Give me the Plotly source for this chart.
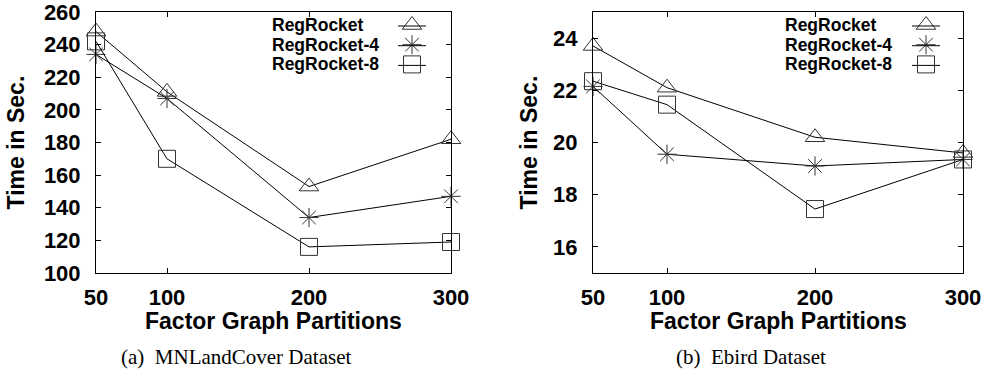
import plotly.graph_objects as go

# Number of factor graph partitions (x axis)
partitions = [50, 100, 200, 300]
series_names = ["RegRocket", "RegRocket-4", "RegRocket-8"]

# Running time in seconds, MNLandCover dataset
mnland_regrocket = [248, 211, 153, 182]
mnland_regrocket4 = [234, 207, 134, 147]
mnland_regrocket8 = [242, 170, 116, 119]

# Running time in seconds, Ebird dataset
ebird_regrocket = [23.7, 22.1, 20.2, 19.6]
ebird_regrocket4 = [22.15, 19.55, 19.1, 19.35]
ebird_regrocket8 = [22.35, 21.45, 17.45, 19.35]

x_ticks = [50, 100, 200, 300]
mnland_yticks = [100, 120, 140, 160, 180, 200, 220, 240, 260]
ebird_yticks = [16, 18, 20, 22, 24]

captions = ["(a)  MNLandCover Dataset", "(b)  Ebird Dataset"]

W, H = 991, 379
symbols = ["triangle-up-open", "asterisk-open", "square-open"]
sizes = [17, 16, 17]

SANS = "Liberation Sans"
SERIF = "Liberation Serif"

# plot rectangles in pixels: (left, right, top, bottom)
panels = [(96, 451, 12, 273), (593, 963, 12, 273)]


def px_x(v):
    return v / W


def px_y(v):
    return 1 - v / H


fig = go.Figure()

panel_data = [
    ([mnland_regrocket, mnland_regrocket4, mnland_regrocket8], "x", "y"),
    ([ebird_regrocket, ebird_regrocket4, ebird_regrocket8], "x2", "y2"),
]
for series, xa, ya in panel_data:
    for name, vals, sym, sz in zip(series_names, series, symbols, sizes):
        fig.add_trace(go.Scatter(
            x=partitions, y=vals, name=name, xaxis=xa, yaxis=ya,
            mode="lines+markers", showlegend=False,
            line=dict(color="black", width=1),
            marker=dict(symbol=sym, size=sz, color="#333",
                        line=dict(color="#333", width=1)),
            cliponaxis=False,
        ))

axis_common = dict(
    showline=True, linecolor="black", linewidth=1, mirror="allticks",
    ticks="inside", ticklen=5, tickcolor="black", tickwidth=1,
    showgrid=False, zeroline=False, automargin=False,
    ticklabeloverflow="allow",
    tickfont=dict(family=SANS, size=22, color="black", weight="bold"),
)

layout = dict(
    template="none",
    width=W, height=H, margin=dict(l=0, r=0, t=0, b=0, pad=0),
    paper_bgcolor="white", plot_bgcolor="rgba(0,0,0,0)", showlegend=False,
)

for i, ((l, r, t, b), yt, yr) in enumerate(zip(
        panels, [mnland_yticks, ebird_yticks], [[100, 260], [15, 25]])):
    sfx = "" if i == 0 else str(i + 1)
    layout["xaxis" + sfx] = dict(
        axis_common, domain=[px_x(l), px_x(r)], range=[50, 300],
        tickvals=x_ticks, anchor="y" + sfx, ticklabelstandoff=5,
    )
    layout["yaxis" + sfx] = dict(
        axis_common, domain=[px_y(b), px_y(t)], range=yr,
        tickvals=yt, anchor="x" + sfx, ticklabelstandoff=10,
    )

# overlay axes spanning the whole page, in pixel units, for legend keys
layout["xaxis3"] = dict(domain=[0, 1], range=[0, W], visible=False,
                        anchor="y3", fixedrange=True, automargin=False)
layout["yaxis3"] = dict(domain=[0, 1], range=[H, 0], visible=False,
                        anchor="x3", fixedrange=True, automargin=False)
fig.update_layout(**layout)

annotations = []
shapes = []
legend_rows = [25, 44.7, 64.4]
legend_text_x = [270, 783]
legend_key_x = [412, 926]
for p, (l, r, t, b) in enumerate(panels):
    cx = (l + r) / 2
    cy = (t + b) / 2
    annotations.append(dict(
        text="Factor Graph Partitions", x=px_x(cx), y=px_y(321),
        xref="paper", yref="paper", xanchor="center", yanchor="middle",
        showarrow=False,
        font=dict(family=SANS, size=23, color="black", weight="bold")))
    annotations.append(dict(
        text="Time in Sec.", x=px_x([16, 529][p]), y=px_y(cy),
        xref="paper", yref="paper", xanchor="center", yanchor="middle",
        textangle=-90, showarrow=False,
        font=dict(family=SANS, size=23, color="black", weight="bold")))
    annotations.append(dict(
        text=captions[p], x=px_x([236, 751][p]), y=px_y(357),
        xref="paper", yref="paper", xanchor="center", yanchor="middle",
        showarrow=False,
        font=dict(family=SERIF, size=21, color="black")))
    for k, name in enumerate(series_names):
        ry = legend_rows[k]
        annotations.append(dict(
            text=name, x=px_x(legend_text_x[p]), y=px_y(ry),
            xref="paper", yref="paper", xanchor="left", yanchor="middle",
            showarrow=False,
            font=dict(family=SANS, size=17.5, color="black", weight="bold")))
        kx = legend_key_x[p]
        shapes.append(dict(
            type="line", xref="x3", yref="y3",
            x0=kx - 14, x1=kx + 14, y0=ry + 1, y1=ry + 1,
            line=dict(color="black", width=1)))
        fig.add_trace(go.Scatter(
            x=[kx], y=[ry], xaxis="x3", yaxis="y3", mode="markers",
            showlegend=False, hoverinfo="skip",
            marker=dict(symbol=symbols[k], size=sizes[k], color="#333",
                        line=dict(color="#333", width=1)),
        ))

fig.update_layout(annotations=annotations, shapes=shapes)
fig.write_html("out.html")
